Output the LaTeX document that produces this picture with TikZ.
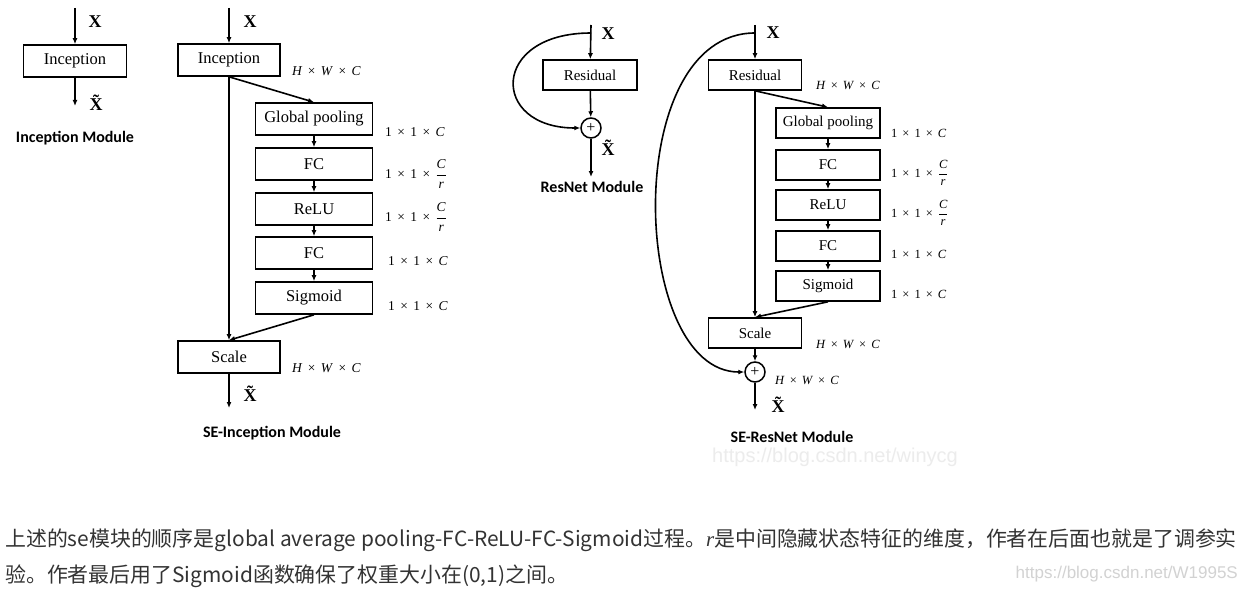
\documentclass[tikz,border=0pt]{standalone}
\usepackage{fontspec}
\setmainfont{Liberation Serif}
\newfontfamily\cjkfont{Noto Sans CJK SC}
\newfontfamily\headfont{Carlito}
\newfontfamily\markfont{Liberation Sans}
\usetikzlibrary{calc}
\usetikzlibrary{arrows.meta}

\newcommand{\tms}{\hspace{0.4em}×\hspace{0.4em}}
\newcommand{\hwc}{\textit{H}\tms\textit{W}\tms\textit{C}}
\newcommand{\ooc}{1\tms 1\tms\textit{C}}
\newcommand{\oocr}{1\tms 1\tms$\displaystyle\frac{\mbox{\itshape C}}{\mbox{\itshape r}}$}

\tikzset{
  blk/.style={draw, line width=1.6pt, minimum height=32pt, inner sep=0pt, font=\fontsize{16.5}{18}\selectfont},
  sblk/.style={blk, minimum height=30pt, font=\fontsize{15}{17}\selectfont},
  dimlbl/.style={anchor=west, inner sep=0pt, font=\fontsize{13.5}{15}\selectfont},
  sdimlbl/.style={dimlbl, font=\fontsize{12.5}{14}\selectfont},
  sym/.style={inner sep=0pt, font=\fontsize{18}{20}\selectfont\bfseries},
  ttl/.style={inner sep=0pt, font=\headfont\bfseries\fontsize{16}{18}\selectfont},
  addop/.style={draw, circle, line width=1.5pt, minimum size=20pt, inner sep=0pt, font=\fontsize{16}{16}\selectfont},
  arr/.style={line width=1.6pt, -{Latex[length=6pt,width=5pt]}},
}

\begin{document}
\begin{tikzpicture}[x=1pt, y=-1pt]
\path[use as bounding box, fill=white] (0,0) rectangle (1244,591);

\coordinate (incIn) at (75,8);
\coordinate (incOut) at (75,106);
\node[blk, minimum width=103pt] (inc) at (75,61) {Inception};
\draw[arr] (incIn) -- (inc);
\draw[arr] (inc) -- (incOut);
\node[sym] (incX) at (95,22) {X};
\node[sym] (incXt) at (96,103) {X̃};
\node[ttl] (incTtl) at (75,138) {Inception Module};

\coordinate (seIncIn) at (229,8);
\coordinate (seIncOut) at (229,408);
\node[blk, minimum width=102pt] (seInc) at (229,60) {Inception};
\node[blk, minimum width=102pt] (seScale) at (229,357) {Scale};
\foreach \nm/\txt/\yy in {gp/Global pooling/119, fcA/FC/164, re/ReLU/209, fcB/FC/253, sg/Sigmoid/298}
  \node[blk, minimum width=117pt] (a\nm) at (314,\yy) {\txt};
\foreach \u/\v in {gp/fcA, fcA/re, re/fcB, fcB/sg} \draw[arr] (a\u) -- (a\v);
\draw[arr] (seIncIn) -- (seInc);
\draw[arr] (seInc.south) -- (agp.north);
\draw[arr] (seInc.south) -- (seScale.north);
\draw[arr] (asg.south) -- (seScale.north);
\draw[arr] (seScale) -- (seIncOut);
\node[sym] (seIncX) at (250,22) {X};
\node[sym] (seIncXt) at (250,394) {X̃};
\node[dimlbl] (dInc) at (292,71) {\hwc};
\node[dimlbl] (dScale) at (292,368) {\hwc};
\node[dimlbl] (dgp) at (385,132) {\ooc};
\node[dimlbl] (dfcA) at (385,174) {\oocr};
\node[dimlbl] (dre) at (385,217) {\oocr};
\node[dimlbl] (dfcB) at (388,261) {\ooc};
\node[dimlbl] (dsg) at (388,306) {\ooc};
\node[ttl] (seIncTtl) at (272,433) {SE-Inception Module};

\coordinate (resIn) at (591,25);
\coordinate (resTap) at (591,33);
\coordinate (resOut) at (591,177);
\node[sblk, minimum width=94pt] (res) at (590,75) {Residual};
\node[addop] (resAdd) at (591,128) {+};
\draw[arr] (resIn) -- (res);
\draw[arr] (res) -- (resAdd);
\draw[arr] (resTap) .. controls (490,33) and (490,128) .. (resAdd.west);
\draw[arr] (resAdd) -- (resOut);
\node[sym] (resX) at (608,34) {X};
\node[sym] (resXt) at (608,148) {X̃};
\node[ttl] (resTtl) at (592,187) {ResNet Module};

\coordinate (seResIn) at (755,25);
\coordinate (seResTap) at (755,33);
\coordinate (seResOut) at (755,410);
\node[sblk, minimum width=93pt] (seRes) at (755,75) {Residual};
\node[sblk, minimum width=93pt] (seResScale) at (755,333) {Scale};
\node[addop] (seResAdd) at (755,372) {+};
\foreach \nm/\txt/\yy in {gp/Global pooling/123, fcA/FC/165, re/ReLU/205, fcB/FC/246, sg/Sigmoid/286}
  \node[sblk, minimum width=104pt] (b\nm) at (828,\yy) {\txt};
\foreach \u/\v in {gp/fcA, fcA/re, re/fcB, fcB/sg} \draw[arr] (b\u) -- (b\v);
\draw[arr] (seResIn) -- (seRes);
\draw[arr] (seRes.south) -- (bgp.north);
\draw[arr] (seRes.south) -- (seResScale.north);
\draw[arr] (bsg.south) -- (seResScale.north);
\draw[arr] (seResScale) -- (seResAdd);
\draw[arr] (seResTap) .. controls (620,33) and (630,372) .. (seResAdd.west);
\draw[arr] (seResAdd) -- (seResOut);
\node[sym] (seResX) at (773,33) {X};
\node[sym] (seResXt) at (778,405) {X̃};
\node[sdimlbl] (eRes) at (816,85) {\hwc};
\node[sdimlbl] (eScale) at (816,344) {\hwc};
\node[sdimlbl] (eAdd) at (775,380) {\hwc};
\node[sdimlbl] (egp) at (891,133) {\ooc};
\node[sdimlbl] (efcA) at (891,173) {\oocr};
\node[sdimlbl] (ere) at (891,213) {\oocr};
\node[sdimlbl] (efcB) at (891,254) {\ooc};
\node[sdimlbl] (esg) at (891,294) {\ooc};
\node[ttl] (seResTtl) at (792,437) {SE-ResNet Module};

\node[inner sep=0pt, text=gray!15, font=\markfont\fontsize{20}{22}\selectfont] (markA) at (835,457) {https://blog.csdn.net/winycg};

\node[anchor=west, inner sep=0pt, text=black!80, font=\cjkfont\fontsize{20.9}{24}\selectfont] (paraA) at (5,540) {上述的se模块的顺序是global average pooling-FC-ReLU-FC-Sigmoid过程。{\rmfamily\itshape r}是中间隐藏状态特征的维度，作者在后面也就是了调参实};
\node[anchor=west, inner sep=0pt, text=black!80, font=\cjkfont\fontsize{20.9}{24}\selectfont] (paraB) at (5,576) {验。作者最后用了Sigmoid函数确保了权重大小在(0,1)之间。};
\node[anchor=east, inner sep=0pt, text=gray!35, font=\markfont\fontsize{17}{19}\selectfont] (markB) at (1238,574) {https://blog.csdn.net/W1995S};
\end{tikzpicture}
\end{document}
